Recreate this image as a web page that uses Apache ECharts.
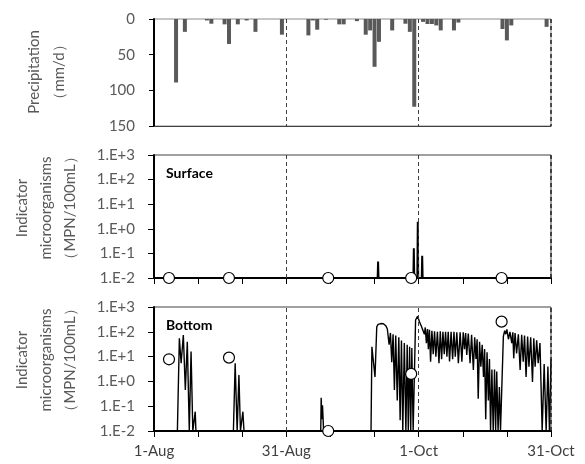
<!DOCTYPE html>
<html>
<head>
<meta charset="utf-8">
<script src="https://cdn.jsdelivr.net/npm/echarts@6/dist/echarts.min.js"></script>
<style>
  html, body { margin: 0; padding: 0; background: #fff; }
  #chart { width: 585px; height: 464px; }
</style>
</head>
<body>
<div id="chart"></div>
<script>
// Day offsets are counted from 1 August (0) to 31 October (90).
const xLabelDays = [0, 30, 60, 90];
const xLabels = ['1-Aug', '31-Aug', '1-Oct', '31-Oct'];
const yLogLabels = ['1.E-2', '1.E-1', '1.E+0', '1.E+1', '1.E+2', '1.E+3'];
const boundaryDays = [30, 60, 90];

// Daily precipitation (mm/d)
const rainDays = [5, 7, 12, 13, 16, 17, 19, 21, 23, 29, 35, 36, 37, 39, 42, 43, 46, 48, 49, 50,
  51, 54, 57, 58, 59, 61, 62, 63, 64, 65, 68, 69, 79, 80, 81, 89];
const rainMm = [89, 18, 2, 6.6, 7.5, 35, 7.5, 2, 18, 22, 23, 2, 15, 1, 7.5, 7.5, 3, 22, 16, 67,
  32, 16, 6.6, 18, 123, 4, 7, 7, 9, 16, 16, 5, 14, 30, 9, 11];

// Field sampling (circles)
const sampleDays = [3.4, 17.0, 39.5, 58.3, 78.8];
const surfaceSamples = [0.01, 0.01, 0.01, 0.01, 0.01];
const bottomSamples = [7.8, 9.1, 0.01, 2.0, 257];

// Simulated concentration, surface layer [day, MPN/100mL]
const surfaceSim = [[0, 0.01], [50.7, 0.01], [50.8, 0.047], [50.9, 0.01], [58.8, 0.01], [58.9, 0.16],
  [59.0, 0.01], [59.7, 0.01], [59.8, 1.95], [59.9, 0.01], [60.7, 0.01], [60.8, 0.08], [60.9, 0.01],
  [90, 0.01]];

// Simulated concentration, bottom layer [day, MPN/100mL]
const bottomSim = [
  [0, 0.01], [5.3, 0.01], [5.75, 55], [6.15, 5.4], [6.65, 74], [7.1, 0.45], [7.55, 40], [8.0, 0.01],
  [8.4, 16], [8.8, 0.01], [9.35, 0.06], [9.5, 0.01],
  [18.0, 0.01], [18.4, 5.4], [18.85, 0.01], [19.25, 1.8], [19.6, 0.01], [20.15, 0.06], [20.4, 0.01],
  [37.8, 0.01], [37.9, 0.22], [38.05, 0.03], [38.2, 0.11], [38.45, 0.01],
  [49.2, 0.01], [49.4, 25], [50.1, 1.5], [50.5, 160], [50.8, 200], [51.1, 235], [51.4, 215], [51.7, 240],
  [52.0, 210], [52.3, 205], [52.6, 170], [52.9, 130], [53.3, 30], [53.6, 90], [53.9, 6], [54.2, 80],
  [54.5, 0.45], [54.8, 70], [55.15, 0.17], [55.5, 60], [55.8, 0.027], [56.1, 45], [56.4, 0.01],
  [56.75, 35], [57.1, 0.01], [57.4, 30], [57.65, 0.01], [57.95, 25], [58.2, 0.01], [58.45, 22],
  [58.75, 0.01], [58.95, 0.01],
  [59.3, 300], [59.5, 250], [59.75, 420], [60.2, 250], [60.6, 170], [61.0, 190], [61.3, 80], [61.5, 150],
  [61.75, 35], [62.0, 130], [62.2, 20], [62.45, 120], [62.7, 6.2], [63.0, 110], [63.3, 12.6], [63.6, 105],
  [63.9, 10], [64.25, 100], [64.6, 5.4], [64.9, 105], [65.2, 7.9], [65.5, 100], [65.8, 12.6], [66.1, 100],
  [66.4, 10], [66.7, 100], [67.0, 6.3], [67.35, 100], [67.7, 7.9], [68.0, 100], [68.3, 10], [68.65, 95],
  [69.0, 5.4], [69.4, 95], [69.8, 6.2], [70.1, 95], [70.4, 20], [70.65, 90], [70.9, 11.7], [71.25, 85],
  [71.65, 5.4], [72.0, 75], [72.4, 2.9], [72.7, 60], [73.0, 8], [73.25, 50], [73.5, 0.2], [73.8, 40],
  [74.1, 3.9], [74.4, 30], [74.7, 1.5], [74.95, 20], [75.2, 0.03], [75.5, 15], [75.8, 0.17], [76.05, 8],
  [76.3, 0.01], [76.6, 3], [76.9, 0.01], [77.2, 3], [77.45, 0.01], [77.7, 2.5], [78.0, 0.01], [78.3, 0.6],
  [78.55, 0.01], [79.0, 0.01],
  [79.2, 65], [79.5, 110], [79.75, 80], [80.0, 125], [80.35, 50], [80.7, 100], [81.1, 35], [81.35, 95],
  [81.55, 8.5], [81.85, 90], [82.2, 13.5], [82.6, 80], [83.0, 2.9], [83.35, 75], [83.7, 6.2], [84.0, 70],
  [84.35, 1.5], [84.7, 65], [85.0, 3.9], [85.4, 60], [85.8, 0.95], [86.1, 55], [86.4, 3.9], [86.75, 45],
  [87.1, 5.4], [87.5, 35], [88.0, 0.01], [88.45, 5], [88.9, 0.01], [89.3, 4], [89.65, 0.01], [90.0, 8]
];

const FONT = 'Lato, "Noto Sans", sans-serif';
const GRAY = '#595959';

const dayLabel = v => {
  const i = xLabelDays.indexOf(Math.round(v));
  return i >= 0 ? xLabels[i] : '';
};
const logLabel = v => {
  const i = Math.round(Math.log10(v)) + 2;
  return yLogLabels[i] || '';
};
const zip = (xs, ys) => xs.map((x, i) => [x, ys[i]]);

const boundaryLines = {
  silent: true,
  symbol: ['none', 'none'],
  label: { show: false },
  lineStyle: { type: [4, 3], color: '#404040', width: 1 },
  data: boundaryDays.map(d => d === 90
    ? { xAxis: d, lineStyle: { type: [4, 3], color: '#222', width: 1.5 } }
    : { xAxis: d })
};

const gridBase = { left: 154, right: 34, show: true, borderWidth: 1 };

const xBase = {
  type: 'value', min: 0, max: 90, interval: 10,
  splitLine: { show: false },
  axisLine: { onZero: false },
  axisLabel: { show: false }
};

const logAxis = idx => ({
  gridIndex: idx, type: 'log', logBase: 10, min: 0.01, max: 1000, interval: 1,
  splitLine: { show: false },
  axisLine: { show: true, lineStyle: { color: '#000', width: 2 } },
  axisTick: { show: true, length: 6, lineStyle: { color: '#000', width: 1 } },
  axisLabel: { formatter: logLabel, fontSize: 15, color: GRAY, fontFamily: FONT, margin: 19 }
});

const titleText = (x, y, text) => ({
  type: 'text', x, y, rotation: Math.PI / 2,
  style: { text, fontSize: 15, fill: GRAY, fontFamily: FONT, align: 'center', verticalAlign: 'middle' }
});

const option = {
  animation: false,
  backgroundColor: '#fff',
  grid: [
    Object.assign({}, gridBase, { top: 19, height: 107, borderColor: '#8c8c8c' }),
    Object.assign({}, gridBase, { top: 155, height: 123, borderColor: '#404040' }),
    Object.assign({}, gridBase, { top: 307, height: 124, borderColor: '#404040' })
  ],
  xAxis: [
    Object.assign({}, xBase, {
      gridIndex: 0, position: 'bottom',
      axisLine: { onZero: false, lineStyle: { color: '#404040', width: 1 } },
      axisTick: { show: false }
    }),
    Object.assign({}, xBase, {
      gridIndex: 1, position: 'bottom',
      axisLine: { onZero: false, lineStyle: { color: '#000', width: 2 } },
      axisTick: { show: true, length: 6, lineStyle: { color: '#000', width: 1 } }
    }),
    Object.assign({}, xBase, {
      gridIndex: 2, position: 'bottom',
      axisLine: { onZero: false, lineStyle: { color: '#000', width: 2 } },
      axisTick: { show: true, length: 6, lineStyle: { color: '#000', width: 1 } },
      axisLabel: { show: true, formatter: dayLabel, fontSize: 15, color: '#404040', fontFamily: FONT, margin: 13, showMinLabel: true, showMaxLabel: true }
    })
  ],
  yAxis: [
    {
      gridIndex: 0, type: 'value', min: 0, max: 150, interval: 50, inverse: true,
      splitLine: { show: false },
      axisLine: { show: true, lineStyle: { color: '#000', width: 2 } },
      axisTick: { show: true, length: 5, lineStyle: { color: '#000', width: 1 } },
      axisLabel: { fontSize: 15, color: GRAY, fontFamily: FONT, margin: 19 }
    },
    logAxis(1),
    logAxis(2)
  ],
  graphic: [
    titleText(34, 72, 'Precipitation'),
    titleText(59, 72, '（mm/d）'),
    titleText(22, 208, 'Indicator'),
    titleText(46, 208, 'microorganisms'),
    titleText(70, 208, '（MPN/100mL）'),
    titleText(22, 360, 'Indicator'),
    titleText(46, 360, 'microorganisms'),
    titleText(70, 360, '（MPN/100mL）'),
    { type: 'text', x: 166, y: 173, style: { text: 'Surface', fontSize: 14, fontWeight: 'bold', fill: '#000', fontFamily: FONT, verticalAlign: 'middle' } },
    { type: 'text', x: 166, y: 325, style: { text: 'Bottom', fontSize: 14, fontWeight: 'bold', fill: '#000', fontFamily: FONT, verticalAlign: 'middle' } }
  ],
  series: [
    {
      name: 'Precipitation', type: 'bar', xAxisIndex: 0, yAxisIndex: 0,
      barWidth: 4, itemStyle: { color: '#595959' },
      data: zip(rainDays, rainMm),
      markLine: boundaryLines, z: 3
    },
    {
      name: 'Surface simulated', type: 'line', xAxisIndex: 1, yAxisIndex: 1,
      showSymbol: false, lineStyle: { color: '#000', width: 2 },
      data: surfaceSim, markLine: boundaryLines, z: 3
    },
    {
      name: 'Surface observed', type: 'scatter', xAxisIndex: 1, yAxisIndex: 1,
      symbol: 'circle', symbolSize: 11,
      itemStyle: { color: '#fff', borderColor: '#000', borderWidth: 1.2, opacity: 1 },
      data: zip(sampleDays, surfaceSamples), z: 5
    },
    {
      name: 'Bottom simulated', type: 'line', xAxisIndex: 2, yAxisIndex: 2,
      showSymbol: false, lineStyle: { color: '#000', width: 1.4 },
      data: bottomSim, markLine: boundaryLines, z: 3
    },
    {
      name: 'Bottom observed', type: 'scatter', xAxisIndex: 2, yAxisIndex: 2,
      symbol: 'circle', symbolSize: 11,
      itemStyle: { color: '#fff', borderColor: '#000', borderWidth: 1.2, opacity: 1 },
      data: zip(sampleDays, bottomSamples), z: 5
    }
  ]
};

const chart = echarts.init(document.getElementById('chart'), null, { renderer: 'canvas' });
chart.setOption(option);
</script>
</body>
</html>
